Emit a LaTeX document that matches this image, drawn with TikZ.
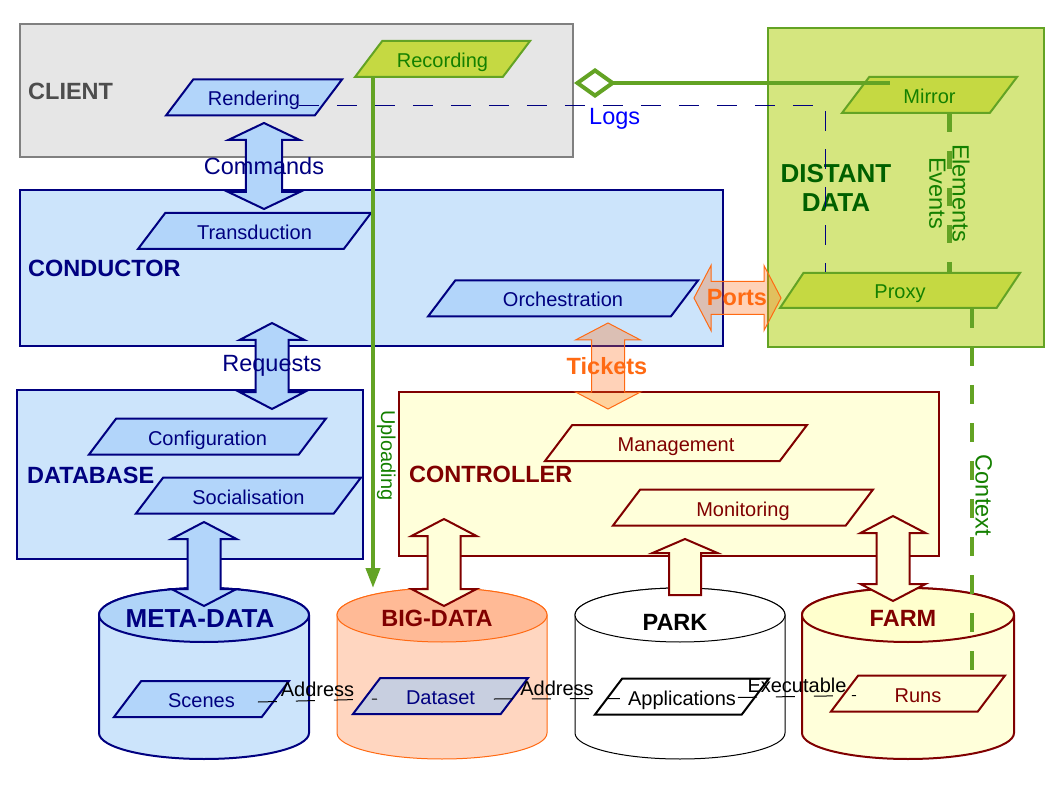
\documentclass[tikz,border=0pt]{standalone}
\usepackage{fontspec}
\setmainfont{Liberation Sans}
\setsansfont{Liberation Sans}
\usepackage{tikz}
\usetikzlibrary{shapes.geometric,arrows.meta,calc}

\definecolor{cnavy}{RGB}{0,0,128}
\definecolor{cdred}{RGB}{128,0,0}
\definecolor{cboxblue}{RGB}{204,228,251}
\definecolor{cparablue}{RGB}{178,213,250}
\definecolor{cbluetop}{RGB}{176,212,248}
\definecolor{cgrayfill}{RGB}{230,230,230}
\definecolor{cgrayline}{RGB}{128,128,128}
\definecolor{ctitlegray}{RGB}{77,77,77}
\definecolor{cgreenfill}{RGB}{213,230,127}
\definecolor{cgreenline}{RGB}{99,163,36}
\definecolor{cparagreen}{RGB}{197,217,66}
\definecolor{cgreentext}{RGB}{20,128,0}
\definecolor{cdkgreen}{RGB}{0,96,0}
\definecolor{corange}{RGB}{255,106,19}
\definecolor{cpeach}{RGB}{255,214,192}
\definecolor{cpeachtop}{RGB}{255,186,150}
\definecolor{cyellow}{RGB}{255,255,218}
\definecolor{cyellowtop}{RGB}{255,255,205}
\definecolor{cgrayblue}{RGB}{200,207,224}

\tikzset{
	box/.style={draw, line width=2pt, inner sep=0pt},
	para/.style={trapezium, trapezium left angle=32, trapezium right angle=148, trapezium stretches body,
		minimum height=36, inner xsep=-40pt, inner ysep=0pt, text height=17pt, text depth=0pt,
		line width=2pt, font=\fontsize{20}{24}\selectfont},
	paranavy/.style={para, draw=cnavy, fill=cparablue, text=cnavy},
	paragreen/.style={para, draw=cgreenline, fill=cparagreen, text=cgreentext},
	parared/.style={para, draw=cdred, fill=cyellow, text=cdred},
	title/.style={anchor=west, inner sep=0pt, font=\fontsize{23.5}{28}\selectfont\bfseries},
	bigtitle/.style={inner sep=0pt, font=\fontsize{26}{29}\selectfont\bfseries},
	lbl/.style={inner sep=1pt, font=\fontsize{23.5}{28}\selectfont},
	small/.style={inner sep=3pt, font=\fontsize{20}{24}\selectfont},
	storebox/.style={minimum width=210, minimum height=171, inner sep=0pt, outer sep=0pt},
	navyarrow/.style={draw=cnavy, fill=cparablue, line width=2pt},
	redarrow/.style={draw=cdred, fill=cyellow, line width=2pt},
	seethru/.style={draw=corange, line width=1pt, fill=corange, fill opacity=0.3},
	thinlink/.style={line width=1pt, dash pattern=on 19pt off 19pt},
	greenlink/.style={cgreenline, line width=4pt},
	pics/dblarr/.style={code={
		\draw[pic actions] (0,-#1) -- (32.5,-#1+17) -- (16.5,-#1+17) -- (16.5,#1-17) -- (32.5,#1-17) -- (0,#1)
			-- (-32.5,#1-17) -- (-16.5,#1-17) -- (-16.5,-#1+17) -- (-32.5,-#1+17) -- cycle;
	}},
	pics/uparr/.style={code={
		\draw[pic actions] (0,-#1) -- (32.5,-#1+14) -- (16,-#1+14) -- (16,#1) -- (-16,#1) -- (-16,-#1+14) -- (-32.5,-#1+14) -- cycle;
	}},
}

\begin{document}
\begin{tikzpicture}[x=1pt,y=-1pt]
	\useasboundingbox (0,0) rectangle (1058,794);

	% the five blocks
	\node[box, draw=cgrayline, fill=cgrayfill, minimum width=553, minimum height=133] (client) at (296.5,90.5) {};
	\node[box, draw=cgreenline, fill=cgreenfill, minimum width=276, minimum height=319] (distant) at (906,187.5) {};
	\node[box, draw=cnavy, fill=cboxblue, minimum width=703, minimum height=156] (conductor) at (371.5,268) {};
	\node[box, draw=cnavy, fill=cboxblue, minimum width=346, minimum height=169] (database) at (190,474.5) {};
	\node[box, draw=cdred, fill=cyellow, minimum width=540, minimum height=164] (controller) at (669,474) {};

	% the four stores
	\node[storebox] (meta) at (204,673.5) {};
	\node[storebox] (big) at (442,673.5) {};
	\node[storebox] (park) at (680,673.5) {};
	\node[storebox, minimum width=212] (farm) at (908,673.5) {};
	\foreach \st/\ln/\bd/\tp/\lw/\rx in {meta/cnavy/cboxblue/cbluetop/2/105, big/corange/cpeach/cpeachtop/1/105,
			park/black/white/white/1/105, farm/cdred/cyellow/cyellowtop/2/106}{
		\draw[draw=\ln, fill=\bd, line width=\lw pt] ([yshift=-27pt]\st.north west) -- ([yshift=26pt]\st.south west)
			arc[start angle=180, end angle=360, x radius=\rx pt, y radius=26pt] -- ([yshift=-27pt]\st.north east)
			arc[start angle=0, end angle=180, x radius=\rx pt, y radius=27pt] -- cycle;
		\draw[draw=\ln, fill=\tp, line width=\lw pt] ([yshift=-27pt]\st.north) ellipse[x radius=\rx pt, y radius=27pt];
	}

	% parallelograms
	\node[paranavy, minimum width=176] (rend) at (254,97.5) {Rendering};
	\node[paragreen, minimum width=175] (rec) at (442.5,59) {Recording};
	\node[paragreen, minimum width=175] (mirror) at (929.5,95) {Mirror};
	\node[paragreen, minimum width=240, minimum height=35, trapezium left angle=36, trapezium right angle=144] (proxy) at (900,290.5) {Proxy};
	\node[paranavy, minimum width=233] (trans) at (254.5,231) {Transduction};
	\node[paranavy, minimum width=270] (orch) at (563,298.5) {Orchestration};
	\node[paranavy, minimum width=237] (config) at (207.5,436.5) {Configuration};
	\node[paranavy, minimum width=225] (social) at (248.5,495.5) {Socialisation};
	\node[parared, minimum width=262] (manage) at (676,443) {Management};
	\node[parared, minimum width=260] (monitor) at (743,507.5) {Monitoring};
	\node[paranavy, minimum width=175] (scenes) at (201.5,699) {Scenes};
	\node[paranavy, fill=cgrayblue, minimum width=175] (dataset) at (440.5,696) {Dataset};
	\node[para, draw=black, fill=white, minimum width=174] (apps) at (682,696.5) {Applications};
	\node[parared, minimum width=174] (runs) at (918,693.5) {Runs};

	% titles
	\node[title, text=ctitlegray] (clienttitle) at (28,91) {CLIENT};
	\node[title, text=cnavy] (conductortitle) at (28,268) {CONDUCTOR};
	\node[title, text=cnavy] (databasetitle) at (27,475) {DATABASE};
	\node[title, text=cdred] (controllertitle) at (409,474) {CONTROLLER};
	\node[bigtitle, text=cdkgreen, align=center] (distanttitle) at (836,188) {DISTANT\\DATA};
	\node[bigtitle, text=cnavy] (metatitle) at (200,619) {META-DATA};
	\node[title, anchor=center, text=cdred] (bigtitle) at (437,618) {BIG-DATA};
	\node[title, anchor=center, text=black] (parktitle) at (675,622) {PARK};
	\node[title, anchor=center, text=cdred] (farmtitle) at (903,618) {FARM};

	% block arrows
	\pic[navyarrow, xscale=1.1] at (264,166) {dblarr=43};
	\pic[navyarrow] at (272,366) {dblarr=43};
	\pic[navyarrow] at (204,564) {dblarr=42};
	\pic[redarrow] at (444,562.5) {dblarr=43.5};
	\pic[redarrow] at (685,567) {uparr=28};
	\pic[redarrow] at (893,558.5) {dblarr=42.5};
	\pic[seethru] at (608,366) {dblarr=43};
	\pic[seethru, rotate=90] at (737.5,298) {dblarr=43.5};

	\node[lbl, text=cnavy] (cmdlbl) at (264,166) {Commands};
	\node[lbl, text=cnavy] (reqlbl) at (272,366) {Requests};
	\node[lbl, text=corange, font=\fontsize{23.5}{28}\selectfont\bfseries] (ticklbl) at (607,366) {Tickets};
	\node[lbl, text=corange, font=\fontsize{23.5}{28}\selectfont\bfseries] (portlbl) at (737,298) {Ports};

	% links
	\coordinate (logstart) at ([xshift=135pt, yshift=11pt]rend.bottom left corner);
	\coordinate (logend) at ([xshift=47pt]proxy.bottom left corner |- proxy.north);
	\draw[cnavy, line width=1pt, dash pattern=on 20pt off 18pt] (logstart) -| (logend)
		node[pos=0.3, below, lbl, text=blue, inner sep=2pt] {Logs};
	\coordinate (aggstart) at ([xshift=50pt, yshift=31pt]mirror.bottom left corner);
	\draw[greenlink, -{Diamond[open, fill=white, length=42pt, width=30pt]}] (aggstart) -- (aggstart -| client.east);
	\draw[greenlink, -{Triangle[width=14pt,length=20pt]}] ([xshift=20pt]rec.bottom left corner) -- ([xshift=20pt]rec.bottom left corner |- big.north)
		node[pos=0.74, sloped, above, font=\fontsize{20}{24}\selectfont, text=cgreentext, inner sep=2pt] {Uploading};
	\coordinate (evtop) at ([xshift=109pt]mirror.bottom left corner);
	\draw[greenlink, line width=5pt, dash pattern=on 18pt off 19pt] (evtop) -- (evtop |- proxy.north)
		node[midway, sloped, above, lbl, text=cgreentext] {Elements}
		node[midway, sloped, below, lbl, text=cgreentext] {Events};
	\coordinate (ctxtop) at ([xshift=194pt]proxy.bottom left corner);
	\draw[greenlink, line width=4.5pt, dash pattern=on 19pt off 19pt] (ctxtop) -- (ctxtop |- runs.north)
		node[pos=0.51, sloped, above, lbl, text=cgreentext] {Context};
	\draw[thinlink] ([xshift=146pt, yshift=16pt]scenes.bottom left corner) -- ([xshift=26pt, yshift=16pt]dataset.bottom left corner)
		node[midway, above, small] {Address};
	\draw[thinlink] ([xshift=143pt, yshift=16pt]dataset.bottom left corner) -- ([xshift=27pt, yshift=17pt]apps.bottom left corner)
		node[midway, above, small] {Address};
	\draw[thinlink] ([xshift=145pt, yshift=18pt]apps.bottom left corner) -- ([xshift=27pt, yshift=17pt]runs.bottom left corner)
		node[midway, above, small] {Executable};

\end{tikzpicture}
\end{document}
